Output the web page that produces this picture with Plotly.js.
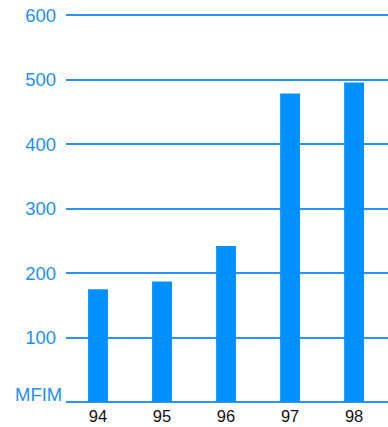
<!DOCTYPE html>
<html><head><meta charset="utf-8">
<script src="https://cdn.plot.ly/plotly-3.0.1.min.js"></script>
<style>html,body{margin:0;padding:0;background:#fff}</style>
</head><body>
<div id="chart" style="width:388px;height:427px"></div>
<script>
const categories = ["94", "95", "96", "97", "98"];
const values = [175, 187, 242, 479, 496];
const yTickVals = [0, 100, 200, 300, 400, 500, 600];
const yTickText = ["", "100", "200", "300", "400", "500", "600"];
const unitLabel = "MFIM";

Plotly.newPlot("chart", [{
  type: "bar",
  x: categories,
  y: values,
  marker: {color: "#0090ff"},
  hoverinfo: "none"
}], {
  width: 388, height: 427,
  margin: {l: 66, r: 0, t: 9, b: 25},
  paper_bgcolor: "#fff", plot_bgcolor: "#fff",
  bargap: 0.69,
  showlegend: false,
  font: {family: "Liberation Sans, Arial, sans-serif"},
  xaxis: {
    type: "category",
    range: [-0.5, 4.53],
    showgrid: false, zeroline: false, showline: false,
    ticks: "",
    ticklabelstandoff: 2,
    tickfont: {size: 16.5, color: "#111"}
  },
  yaxis: {
    range: [0, 610],
    tickvals: yTickVals, ticktext: yTickText,
    showgrid: true, gridcolor: "#2a93f5", gridwidth: 2,
    zeroline: true, zerolinecolor: "#2a93f5", zerolinewidth: 2,
    showline: false, ticks: "",
    ticklabelstandoff: 9,
    tickfont: {size: 18.5, color: "#1e8ff5"}
  },
  annotations: [{
    text: unitLabel, showarrow: false,
    xref: "paper", x: 0, xanchor: "right", xshift: -2,
    yref: "y", y: 0, yanchor: "bottom", yshift: -5,
    font: {size: 18.5, color: "#1e8ff5"}
  }]
}, {staticPlot: true});
</script>
</body></html>
